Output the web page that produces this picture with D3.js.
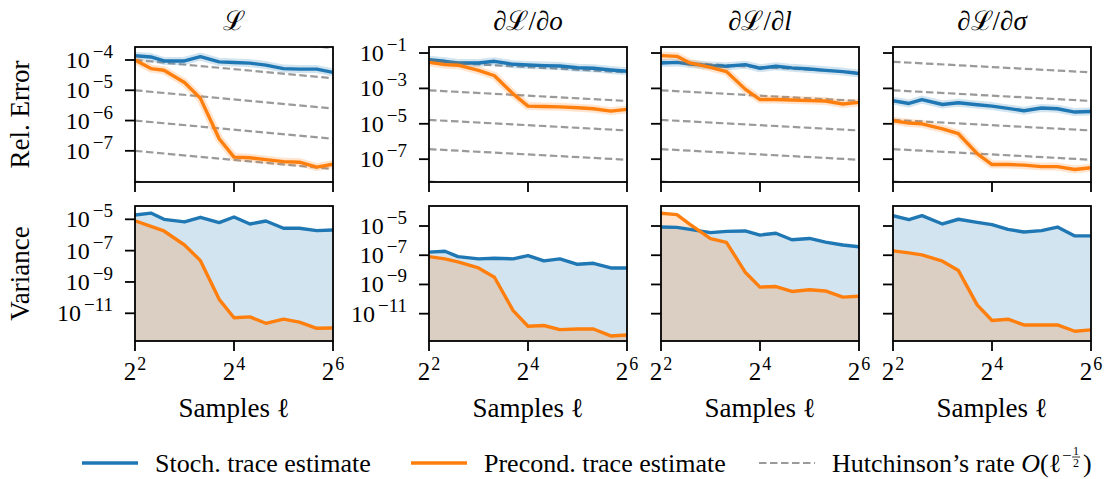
<!DOCTYPE html>
<html>
<head>
<meta charset="utf-8">
<script src="https://cdn.jsdelivr.net/npm/d3@7"></script>
<style>
  body { margin: 0; background: #fff; }
  svg text { font-family: "Liberation Serif", "DejaVu Serif", serif; fill: #000; }
</style>
</head>
<body>
<div id="chart"></div>
<script>
// sample counts on the x axis (log2 spaced)
const samples = [4, 5, 6, 8, 10, 13, 16, 20, 25, 32, 40, 51, 64];

const titles = ["L", "o", "l", "σ"];

// relative error, stochastic trace estimate
const relErrStochL     = [1.38e-4, 1.26e-4, 9.3e-5, 9.3e-5, 1.29e-4, 8.7e-5, 8.3e-5, 7.9e-5, 6.8e-5, 5.2e-5, 5.0e-5, 5.0e-5, 3.9e-5];
const relErrStochDo    = [4.2e-2, 3.4e-2, 2.75e-2, 2.75e-2, 3.4e-2, 2.3e-2, 2.1e-2, 1.95e-2, 1.86e-2, 1.48e-2, 1.38e-2, 1.1e-2, 9.3e-3];
const relErrStochDl    = [2.75e-2, 2.95e-2, 2.4e-2, 1.95e-2, 1.78e-2, 2.2e-2, 1.38e-2, 1.78e-2, 1.45e-2, 1.26e-2, 1.05e-2, 8.9e-3, 6.9e-3];
const relErrStochDs    = [2.0e-4, 1.41e-4, 2.35e-4, 1.23e-4, 1.55e-4, 1.2e-4, 1.0e-4, 7.4e-5, 5.5e-5, 7.8e-5, 7.1e-5, 4.6e-5, 5.0e-5];
// relative error, preconditioned trace estimate
const relErrPrecL      = [1.0e-4, 5.2e-5, 4.6e-5, 1.8e-5, 5.4e-6, 2.5e-7, 6.2e-8, 5.9e-8, 5.1e-8, 4.4e-8, 4.2e-8, 2.9e-8, 3.6e-8];
const relErrPrecDo     = [2.95e-2, 2.2e-2, 2.05e-2, 1.05e-2, 5.2e-3, 4.9e-4, 1.0e-4, 9.5e-5, 9.1e-5, 8.1e-5, 7.1e-5, 5.2e-5, 6.5e-5];
const relErrPrecDl     = [7.1e-2, 6.5e-2, 2.75e-2, 1.55e-2, 8.9e-3, 9.1e-4, 2.35e-4, 2.35e-4, 2.2e-4, 2.05e-4, 1.95e-4, 1.32e-4, 1.62e-4];
const relErrPrecDs     = [1.48e-5, 1.1e-5, 1.0e-5, 5.2e-6, 2.75e-6, 2.05e-7, 5.0e-8, 5.0e-8, 4.6e-8, 3.8e-8, 3.8e-8, 2.6e-8, 3.3e-8];
// variance, stochastic trace estimate
const varStochL        = [1.9e-5, 2.5e-5, 1.0e-5, 6.8e-6, 1.35e-5, 6.2e-6, 1.41e-5, 5.0e-6, 7.8e-6, 2.7e-6, 2.7e-6, 1.9e-6, 2.1e-6];
const varStochDo       = [1.62e-7, 1.86e-7, 8.1e-8, 5.6e-8, 6.2e-8, 5.6e-8, 9.5e-8, 4.1e-8, 5.6e-8, 2.4e-8, 2.8e-8, 1.35e-8, 1.35e-8];
const varStochDl       = [8.5e-6, 8.1e-6, 5.9e-6, 3.5e-6, 4.3e-6, 4.6e-6, 2.4e-6, 3.2e-6, 1.15e-6, 1.41e-6, 7.9e-7, 5.0e-7, 3.8e-7];
const varStochDs       = [5.1e-5, 2.7e-5, 5.1e-5, 1.38e-5, 2.9e-5, 1.78e-5, 1.23e-5, 5.9e-6, 3.9e-6, 4.8e-6, 8.5e-6, 2.1e-6, 2.1e-6];
// variance, preconditioned trace estimate
const varPrecL         = [8.1e-6, 3.5e-6, 1.8e-6, 2.3e-7, 2.3e-8, 7.8e-11, 5.2e-12, 5.9e-12, 2.3e-12, 4.2e-12, 2.7e-12, 1.1e-12, 1.15e-12];
const varPrecDo        = [8.1e-8, 5.6e-8, 3.5e-8, 1.35e-8, 3.1e-9, 1.62e-11, 1.38e-12, 1.55e-12, 8.1e-13, 8.9e-13, 8.9e-13, 3.0e-13, 3.5e-13];
const varPrecDl        = [7.4e-5, 6.0e-5, 1.29e-5, 1.35e-6, 7.6e-7, 6.9e-9, 6.6e-10, 7.2e-10, 3.3e-10, 4.3e-10, 3.6e-10, 1.35e-10, 1.55e-10];
const varPrecDs        = [2.0e-7, 1.45e-7, 1.05e-7, 3.9e-8, 8.9e-9, 4.0e-11, 3.4e-12, 4.2e-12, 1.7e-12, 1.7e-12, 1.7e-12, 6.3e-13, 7.8e-13];

// Hutchinson's rate reference lines: value at l=4 and at l=64
const hutchStartL   = [1e-3, 1e-4, 1e-5, 1e-6, 1e-7, 9.6e-9];
const hutchEndL     = [2.5e-4, 2.5e-5, 2.5e-6, 2.5e-7, 2.5e-8, 2.4e-9];
const hutchStartD   = [3.2e-2, 7.8e-4, 1.66e-5, 3.7e-7, 5.4e-9];
const hutchEndD     = [8.1e-3, 1.95e-4, 4.2e-6, 9.3e-8, 1.35e-9];

// tick labels (exponents of 10 / of 2)
const relTicksL = [-4, -5, -6, -7];
const relTicksD = [-1, -3, -5, -7];
const varTicks  = [-5, -7, -9, -11];
const xTicks    = [2, 4, 6];

const blue = "#1f77b4", orange = "#ff7f0e", gray = "#9a9a9a";

const width = 1111, height = 479;
const panelX = [135, 429, 661, 893];
const panelW = 198;
const rowTop = [47, 206];
const rowH = 135;

const svg = d3.select("#chart").append("svg")
  .attr("width", width).attr("height", height);

const stochRel = [relErrStochL, relErrStochDo, relErrStochDl, relErrStochDs];
const precRel  = [relErrPrecL, relErrPrecDo, relErrPrecDl, relErrPrecDs];
const stochVar = [varStochL, varStochDo, varStochDl, varStochDs];
const precVar  = [varPrecL, varPrecDo, varPrecDl, varPrecDs];

// y domains (visible range of each panel)
const relDomain = i => i === 0 ? [9.33e-9, 2.69e-4] : [5.13e-9, 0.219];
const varDomain = i => i === 0 ? [1.7e-13, 7.08e-5] : [1.35e-13, 2.34e-4];

function supLabel(sel, base, exp, size, supSize, rise, gap) {
  sel.append("tspan").text(base).attr("font-size", size);
  sel.append("tspan").text(exp).attr("font-size", supSize).attr("dy", -rise).attr("dx", gap);
}

for (let r = 0; r < 2; r++) {
  for (let i = 0; i < 4; i++) {
    const x0 = panelX[i], y0 = rowTop[r];
    const g = svg.append("g").attr("transform", `translate(${x0},${y0})`);

    const x = d3.scaleLog().base(2).domain([4, 64]).range([0, panelW]);
    const y = d3.scaleLog().domain(r === 0 ? relDomain(i) : varDomain(i)).range([rowH, 0]);

    const clipId = `clip-${r}-${i}`;
    g.append("clipPath").attr("id", clipId)
      .append("rect").attr("width", panelW).attr("height", rowH);
    const plot = g.append("g").attr("clip-path", `url(#${clipId})`);

    const line = d3.line().x((d, k) => x(samples[k])).y(d => y(d));

    if (r === 0) {
      const hs = i === 0 ? hutchStartL : hutchStartD;
      const he = i === 0 ? hutchEndL : hutchEndD;
      hs.forEach((s, k) => {
        plot.append("line")
          .attr("x1", x(4)).attr("y1", y(s))
          .attr("x2", x(64)).attr("y2", y(he[k]))
          .attr("stroke", gray).attr("stroke-width", 2.2)
          .attr("stroke-dasharray", "7.5,3.5");
      });
      [[stochRel[i], blue], [precRel[i], orange]].forEach(([vals, c]) => {
        plot.append("path").datum(vals).attr("d", line)
          .attr("fill", "none").attr("stroke", c).attr("stroke-width", 8)
          .attr("stroke-opacity", 0.2).attr("stroke-linejoin", "round");
        plot.append("path").datum(vals).attr("d", line)
          .attr("fill", "none").attr("stroke", c).attr("stroke-width", 3.4)
          .attr("stroke-linejoin", "round");
      });
    } else {
      const area = d3.area().x((d, k) => x(samples[k])).y0(rowH).y1(d => y(d));
      [[stochVar[i], blue], [precVar[i], orange]].forEach(([vals, c]) => {
        plot.append("path").datum(vals).attr("d", area)
          .attr("fill", c).attr("fill-opacity", 0.2);
      });
      [[stochVar[i], blue], [precVar[i], orange]].forEach(([vals, c]) => {
        plot.append("path").datum(vals).attr("d", line)
          .attr("fill", "none").attr("stroke", c).attr("stroke-width", 3.4)
          .attr("stroke-linejoin", "round");
      });
    }

    // frame
    g.append("rect").attr("width", panelW).attr("height", rowH)
      .attr("fill", "none").attr("stroke", "#000").attr("stroke-width", 1.8);

    // y ticks
    const yt = r === 0 ? (i === 0 ? relTicksL : relTicksD) : varTicks;
    yt.forEach(e => {
      const ty = y(Math.pow(10, e));
      g.append("line").attr("x1", -10).attr("x2", 0).attr("y1", ty).attr("y2", ty)
        .attr("stroke", "#000").attr("stroke-width", 1.8);
      if (i < 2) {
        const t = g.append("text").attr("x", -22).attr("y", ty + 8)
          .attr("text-anchor", "end");
        supLabel(t, "10", "\u2212" + (-e), 24, 19, 10, 3);
      }
    });

    // x ticks
    xTicks.forEach(e => {
      const tx = x(Math.pow(2, e));
      g.append("line").attr("x1", tx).attr("x2", tx).attr("y1", rowH).attr("y2", rowH + 10)
        .attr("stroke", "#000").attr("stroke-width", 1.8);
      if (r === 1) {
        const t = g.append("text").attr("x", tx).attr("y", rowH + 39)
          .attr("text-anchor", "middle");
        supLabel(t, "2", String(e), 25, 18, 10, 1);
      }
    });

    if (r === 0) {
      const t = g.append("text").attr("x", panelW / 2).attr("y", -17)
        .attr("text-anchor", "middle").attr("font-size", 27);
      if (i === 0) {
        t.append("tspan").text("\u2112");
      } else {
        t.append("tspan").text("\u2202\u2112/\u2202");
        t.append("tspan").text(titles[i]).attr("font-style", "italic");
      }
    } else {
      const t = g.append("text").attr("x", panelW / 2).attr("y", rowH + 76)
        .attr("text-anchor", "middle").attr("font-size", 27);
      t.append("tspan").text("Samples ");
      t.append("tspan").text("\u2113");
    }
  }
}

// row labels
svg.append("text").attr("transform", `translate(29,${rowTop[0] + rowH / 2}) rotate(-90)`)
  .attr("text-anchor", "middle").attr("font-size", 27).text("Rel. Error");
svg.append("text").attr("transform", `translate(29,${rowTop[1] + rowH / 2}) rotate(-90)`)
  .attr("text-anchor", "middle").attr("font-size", 27).text("Variance");

// legend
const legendItems = [
  { label: "Stoch. trace estimate", color: blue, x: 82, dash: null, w: 3.4 },
  { label: "Precond. trace estimate", color: orange, x: 411, dash: null, w: 3.4 },
  { label: "Hutchinson\u2019s rate ", color: gray, x: 759, dash: "7.5,3.5", w: 2.2 }
];
const ly = 463;
legendItems.forEach((d, k) => {
  svg.append("line").attr("x1", d.x).attr("x2", d.x + 56).attr("y1", ly).attr("y2", ly)
    .attr("stroke", d.color).attr("stroke-width", d.w)
    .attr("stroke-dasharray", d.dash);
  const t = svg.append("text").attr("x", d.x + 73).attr("y", ly + 9).attr("font-size", 26);
  t.append("tspan").text(d.label);
  if (k === 2) {
    t.append("tspan").text("O").attr("font-style", "italic");
    t.append("tspan").text("(\u2113");
    const tx = d.x + 73 + t.node().getComputedTextLength();
    svg.append("text").attr("x", tx + 1).attr("y", ly - 2).attr("font-size", 17).text("\u2212");
    const fx = tx + 15;
    svg.append("text").attr("x", fx).attr("y", ly - 8).attr("font-size", 12)
      .attr("text-anchor", "middle").text("1");
    svg.append("line").attr("x1", fx - 4).attr("x2", fx + 4).attr("y1", ly - 6).attr("y2", ly - 6)
      .attr("stroke", "#000").attr("stroke-width", 0.8);
    svg.append("text").attr("x", fx).attr("y", ly + 4).attr("font-size", 12)
      .attr("text-anchor", "middle").text("2");
    svg.append("text").attr("x", fx + 7).attr("y", ly + 9).attr("font-size", 26).text(")");
  }
});
</script>
</body>
</html>
